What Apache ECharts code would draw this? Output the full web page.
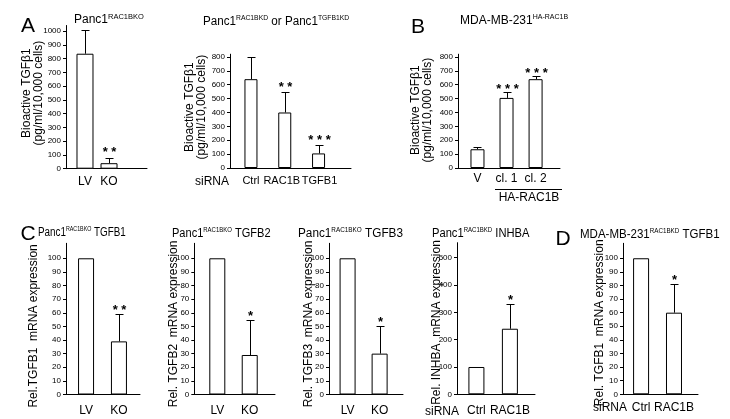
<!DOCTYPE html>
<html>
<head>
<meta charset="utf-8">
<script src="https://cdn.jsdelivr.net/npm/echarts@6/dist/echarts.min.js"></script>
<style>
html,body{margin:0;padding:0;background:#fff;}
#chart{width:730px;height:419px;}
</style>
</head>
<body>
<div id="chart"></div>
<script>
// ---------- DATA ----------
// Panel A (left): Panc1 RAC1B KO
const a1Cats = ['LV', 'KO'];
const a1Values = [835, 40];
const a1Errors = [170, 35];
const a1Stars = ['', '* *'];
const a1Ticks = [0, 100, 200, 300, 400, 500, 600, 700, 800, 900, 1000];

// Panel A (right): Panc1 RAC1B KD or TGFB1 KD
const a2Cats = ['Ctrl', 'RAC1B', 'TGFB1'];
const a2Values = [640, 400, 105];
const a2Errors = [160, 150, 60];
const a2Stars = ['', '* *', '* * *'];
const a2Ticks = [0, 100, 200, 300, 400, 500, 600, 700, 800];

// Panel B: MDA-MB-231 HA-RAC1B
const bCats = ['V', 'cl. 1', 'cl. 2'];
const bValues = [135, 505, 640];
const bErrors = [15, 40, 25];
const bStars = ['', '* * *', '* * *'];
const bTicks = [0, 100, 200, 300, 400, 500, 600, 700, 800];

// Panel C
const c1Cats = ['LV', 'KO'];
const c1Values = [100, 39];
const c1Errors = [0, 20];
const c1Stars = ['', '* *'];

const c2Cats = ['LV', 'KO'];
const c2Values = [100, 29];
const c2Errors = [0, 26];
const c2Stars = ['', '*'];

const c3Cats = ['LV', 'KO'];
const c3Values = [100, 30];
const c3Errors = [0, 20];
const c3Stars = ['', '*'];

const c4Cats = ['Ctrl', 'RAC1B'];
const c4Values = [100, 240];
const c4Errors = [0, 90];
const c4Stars = ['', '*'];
const c4Ticks = [0, 100, 200, 300, 400, 500];

// Panel D
const dCats = ['Ctrl', 'RAC1B'];
const dValues = [100, 60];
const dErrors = [0, 21];
const dStars = ['', '*'];

const pctTicks = [0, 10, 20, 30, 40, 50, 60, 70, 80, 90, 100];

// ---------- LAYOUT ----------
const FONT = 'Liberation Sans, Arial, Helvetica, sans-serif';
const bioName = 'Bioactive TGF\u03b21\n(pg/ml/10,000 cells)';

const panels = [
  {cats:a1Cats, values:a1Values, errors:a1Errors, stars:a1Stars, ticks:a1Ticks, ymax:1040,
   left:66, right:147, top:25.5, bottom:168.7, xmin:-0.79, xmax:2.58, barWidth:17,
   name:bioName, nameGap:21, namePad:[0,0,0,8], catMargin:7, starGap:6, catSize:12},
  {cats:a2Cats, values:a2Values, errors:a2Errors, stars:a2Stars, ticks:a2Ticks, ymax:820,
   left:230, right:351, top:54.2, bottom:168, xmin:-0.62, xmax:2.96, barWidth:13,
   name:bioName, nameGap:22, namePad:[0,0,0,8], catMargin:7, starGap:5, catSize:11,
   catPad:[[0,0,0,0], [0,6,0,0], [0,0,0,2]]},
  {cats:bCats, values:bValues, errors:bErrors, stars:bStars, ticks:bTicks, ymax:820,
   left:458, right:560, top:54.2, bottom:168, xmin:-0.67, xmax:2.84, barWidth:14,
   name:bioName, nameGap:24, namePad:[0,0,0,2], catMargin:5, starGap:3, catSize:12},
  {cats:c1Cats, values:c1Values, errors:c1Errors, stars:c1Stars, ticks:pctTicks, ymax:111,
   left:66, right:140, top:243.3, bottom:394.5, xmin:-0.61, xmax:1.64, barWidth:16,
   name:'Rel.TGFB1  mRNA expression', nameGap:26, namePad:[0,14,0,0], catMargin:10, starGap:4, catSize:12},
  {cats:c2Cats, values:c2Values, errors:c2Errors, stars:c2Stars, ticks:pctTicks, ymax:111,
   left:194.3, right:275, top:243.3, bottom:394.5, xmin:-0.71, xmax:1.78, barWidth:16,
   name:'Rel. TGFB2  mRNA expression', nameGap:15, namePad:[0,10,0,0], catMargin:10, starGap:4, catSize:12},
  {cats:c3Cats, values:c3Values, errors:c3Errors, stars:c3Stars, ticks:pctTicks, ymax:111,
   left:329, right:403, top:243.3, bottom:394.5, xmin:-0.58, xmax:1.73, barWidth:16,
   name:'Rel. TGFB3  mRNA expression', nameGap:14, namePad:[0,10,0,0], catMargin:10, starGap:4, catSize:12},
  {cats:c4Cats, values:c4Values, errors:c4Errors, stars:c4Stars, ticks:c4Ticks, ymax:555,
   left:457, right:535, top:242.7, bottom:394.3, xmin:-0.58, xmax:1.75, barWidth:16,
   name:'Rel. INHBA  mRNA expression', nameGap:14, namePad:[0,8,0,0], catMargin:10, starGap:4, catSize:12},
  {cats:dCats, values:dValues, errors:dErrors, stars:dStars, ticks:pctTicks, ymax:111,
   left:623, right:698, top:243.3, bottom:394.3, xmin:-0.55, xmax:1.73, barWidth:16,
   name:'Rel. TGFB1  mRNA expression', nameGap:17, namePad:[0,8,0,0], catMargin:7, starGap:4, catSize:12}
];

const grids = [], xAxes = [], yAxes = [], series = [];
panels.forEach((p, i) => {
  grids.push({left:p.left, top:p.top, width:p.right - p.left, height:p.bottom - p.top,
              containLabel:false, outerBoundsMode:'none'});
  // a blank label at the axis end keeps the last category label from being treated as the "max label"
  const labelValues = p.cats.map((_, k) => k).concat([p.xmax]);
  const rich = {};
  p.cats.forEach((_, k) => {
    rich['c' + k] = {fontSize:p.catSize, color:'#000', fontFamily:FONT,
                     padding:(p.catPad && p.catPad[k]) || [0, 0, 0, 0]};
  });
  xAxes.push({
    gridIndex:i, type:'value', min:p.xmin, max:p.xmax,
    axisLine:{show:true, onZero:false, lineStyle:{color:'#000', width:1}},
    axisTick:{show:false}, splitLine:{show:false},
    axisLabel:{customValues:labelValues,
               formatter:(v) => {
                 const k = Math.round(v);
                 return (Math.abs(v - k) < 1e-6 && p.cats[k]) ? '{c' + k + '|' + p.cats[k] + '}' : ' ';
               },
               rich:rich,
               fontSize:p.catSize, color:'#000', margin:p.catMargin, fontFamily:FONT, hideOverlap:false}
  });
  yAxes.push({
    gridIndex:i, type:'value', min:0, max:p.ymax,
    axisLine:{show:true, onZero:false, lineStyle:{color:'#000', width:1}},
    axisTick:{show:true, length:3, customValues:p.ticks, lineStyle:{color:'#000', width:1}},
    axisLabel:{customValues:p.ticks, formatter:(v) => String(v), fontSize:8, color:'#000', margin:5, fontFamily:FONT},
    splitLine:{show:false},
    name:p.name, nameLocation:'middle', nameRotate:90, nameGap:p.nameGap, nameMoveOverlap:false,
    nameTextStyle:{fontSize:12, lineHeight:12, color:'#000', fontFamily:FONT, padding:p.namePad}
  });
  series.push({
    type:'bar', xAxisIndex:i, yAxisIndex:i, barWidth:p.barWidth, silent:true,
    data:p.values.map((v, k) => [k, v]),
    itemStyle:{color:'#fff', borderColor:'#000', borderWidth:1}
  });
  series.push({
    type:'custom', xAxisIndex:i, yAxisIndex:i, silent:true, clip:false, z:5,
    data:p.values.map((v, k) => [k, v, v + p.errors[k]]),
    renderItem:(params, api) => {
      const x = api.value(0), v = api.value(1), t = api.value(2);
      const p0 = api.coord([x, v]);
      const p1 = api.coord([x, t]);
      const cx = Math.round(p0[0]) + 0.5;
      const ty = Math.round(p1[1]) + 0.5;
      const children = [];
      if (t > v) {
        children.push({type:'line', shape:{x1:cx, y1:p0[1], x2:cx, y2:ty},
                       style:{stroke:'#000', lineWidth:1}});
        children.push({type:'line', shape:{x1:cx - 4, y1:ty, x2:cx + 4, y2:ty},
                       style:{stroke:'#000', lineWidth:1}});
      }
      const star = p.stars[params.dataIndex];
      if (star) {
        children.push({type:'text', x:cx, y:ty - p.starGap,
          style:{text:star, fill:'#000', font:'bold 13px ' + FONT, align:'center', verticalAlign:'middle'}});
      }
      return {type:'group', children};
    }
  });
});

// ---------- ANNOTATION TEXT ----------
function titleRich(sup) {
  return {
    n:{fontSize:12, lineHeight:14, fontFamily:FONT, color:'#000'},
    s:{fontSize:sup, lineHeight:9, verticalAlign:'top', fontFamily:FONT, color:'#000'}
  };
}
function title(x, y, text, sx, sup) {
  return {type:'text', x:x, y:y, scaleX:sx, silent:true,
          style:{text:text, rich:titleRich(sup), fill:'#000', font:'12px ' + FONT, align:'left', verticalAlign:'middle'}};
}
function plain(x, y, text, size, align) {
  return {type:'text', x:x, y:y, silent:true,
          style:{text:text, fill:'#000', font:size + 'px ' + FONT, align:align || 'center', verticalAlign:'middle'}};
}

const graphics = [
  plain(28, 26, 'A', 21), plain(418, 27, 'B', 21), plain(28, 234, 'C', 21), plain(563, 239, 'D', 21),
  title(74, 20, '{n|Panc1}{s|RAC1BKO}', 1.0, 7.5),
  title(203, 21.5, '{n|Panc1}{s|RAC1BKD}{n| or Panc1}{s|TGFB1KD}', 0.97, 7),
  title(460, 21, '{n|MDA-MB-231}{s|HA-RAC1B}', 1.0, 7),
  title(38, 233, '{n|Panc1}{s|RAC1BKO}{n| TGFB1}', 0.82, 6.5),
  title(172, 234, '{n|Panc1}{s|RAC1BKO}{n| TGFB2}', 0.92, 6.5),
  title(298, 234, '{n|Panc1}{s|RAC1BKO}{n| TGFB3}', 0.98, 6.5),
  title(432, 234, '{n|Panc1}{s|RAC1BKD}{n| INHBA}', 0.93, 6.5),
  title(580, 235, '{n|MDA-MB-231}{s|RAC1BKD}{n| TGFB1}', 0.96, 6.5),
  plain(212, 182, 'siRNA', 12), plain(442, 411.5, 'siRNA', 12), plain(610, 408, 'siRNA', 12),
  {type:'line', silent:true, shape:{x1:495, y1:189.5, x2:562, y2:189.5}, style:{stroke:'#000', lineWidth:1}},
  plain(529, 197.5, 'HA-RAC1B', 12)
];

const chart = echarts.init(document.getElementById('chart'), null, {renderer:'canvas'});
chart.setOption({
  animation:false,
  backgroundColor:'#fff',
  textStyle:{fontFamily:FONT, color:'#000'},
  grid:grids, xAxis:xAxes, yAxis:yAxes, series:series,
  graphic:{elements:graphics}
});
</script>
</body>
</html>
